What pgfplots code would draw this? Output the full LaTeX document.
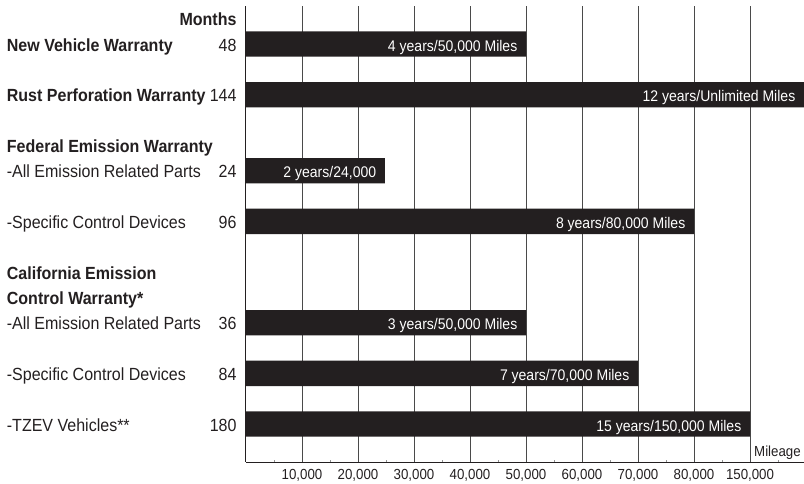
\documentclass[border=0pt]{standalone}
\usepackage{fontspec}
\setmainfont{Liberation Sans}[FakeStretch=0.91]
\usepackage{pgfplots}
\pgfplotsset{compat=1.18}
\definecolor{barblack}{HTML}{231F20}
\definecolor{gridc}{HTML}{4A4A4A}
\newcommand{\lfont}{\fontsize{17.6}{20}\selectfont}
\newcommand{\bfont}{\fontsize{15.4}{17}\selectfont}
\newcommand{\tfont}{\fontsize{14.6}{16}\selectfont}
\begin{document}
\begin{tikzpicture}
\useasboundingbox (0,0) rectangle (804pt,483pt);
\begin{axis}[
  at={(246pt,21pt)}, anchor=south west,
  scale only axis, width=558pt, height=456pt,
  xmin=0, xmax=99.64, ymin=-0.75, ymax=8.25, y dir=reverse,
  axis x line*=bottom, axis y line*=left,
  axis line style={barblack, line width=1pt, -},
  xtick={10,20,30,40,50,60,70,80,90},
  xticklabels={{10,000},{20,000},{30,000},{40,000},{50,000},{60,000},{70,000},{80,000},{150,000}},
  minor xtick={5,15,25,35,45,55,65,75,85,95},
  ytick=\empty,
  xmajorgrids, major grid style={gridc, line width=0.8pt},
  major tick length=0pt, minor tick length=2pt, tick align=inside,
  minor tick style={gridc!60, line width=0.5pt},
  xticklabel style={font=\tfont, text=barblack, anchor=base, inner sep=0pt, yshift=-17.5pt},
  xbar, bar width=0.5,
  point meta=explicit symbolic,
  nodes near coords,
  nodes near coords style={anchor=base east, xshift=-8.5pt, yshift=-7pt, text=white, inner sep=0pt, font=\bfont},
  clip mode=individual,
]
\addplot[fill=barblack, draw=none] coordinates {
  (50,0) [4 years/50,000 Miles]
  (99.64,1) [12 years/Unlimited Miles]
  (24.8,2.5) [2 years/24,000]
  (80,3.5) [8 years/80,000 Miles]
  (50,5.5) [3 years/50,000 Miles]
  (70,6.5) [7 years/70,000 Miles]
  (90,7.5) [15 years/150,000 Miles]
};
\tikzset{lab/.style={anchor=base west, inner sep=0pt, xshift=-239.3pt, yshift=-7pt, font=\lfont, text=barblack},
         num/.style={anchor=base east, inner sep=0pt, xshift=-9.3pt, yshift=-7pt, font=\lfont, text=barblack}}
\node[num] at (axis cs:0,-0.5) {\bfseries Months};
\node[lab] at (axis cs:0,0) {\bfseries New Vehicle Warranty};
\node[num] at (axis cs:0,0) {48};
\node[lab] at (axis cs:0,1) {\bfseries Rust Perforation Warranty};
\node[num] at (axis cs:0,1) {144};
\node[lab] at (axis cs:0,2) {\bfseries Federal Emission Warranty};
\node[lab] at (axis cs:0,2.5) {-All Emission Related Parts};
\node[num] at (axis cs:0,2.5) {24};
\node[lab] at (axis cs:0,3.5) {-Specific Control Devices};
\node[num] at (axis cs:0,3.5) {96};
\node[lab] at (axis cs:0,4.5) {\bfseries California Emission};
\node[lab] at (axis cs:0,5) {\bfseries Control Warranty*};
\node[lab] at (axis cs:0,5.5) {-All Emission Related Parts};
\node[num] at (axis cs:0,5.5) {36};
\node[lab] at (axis cs:0,6.5) {-Specific Control Devices};
\node[num] at (axis cs:0,6.5) {84};
\node[lab] at (axis cs:0,7.5) {-TZEV Vehicles**};
\node[num] at (axis cs:0,7.5) {180};
\node[anchor=base west, inner sep=0pt, xshift=4pt, yshift=5.3pt, font=\tfont, text=barblack] at (axis cs:90,8.25) {Mileage};
\end{axis}
\end{tikzpicture}
\end{document}
